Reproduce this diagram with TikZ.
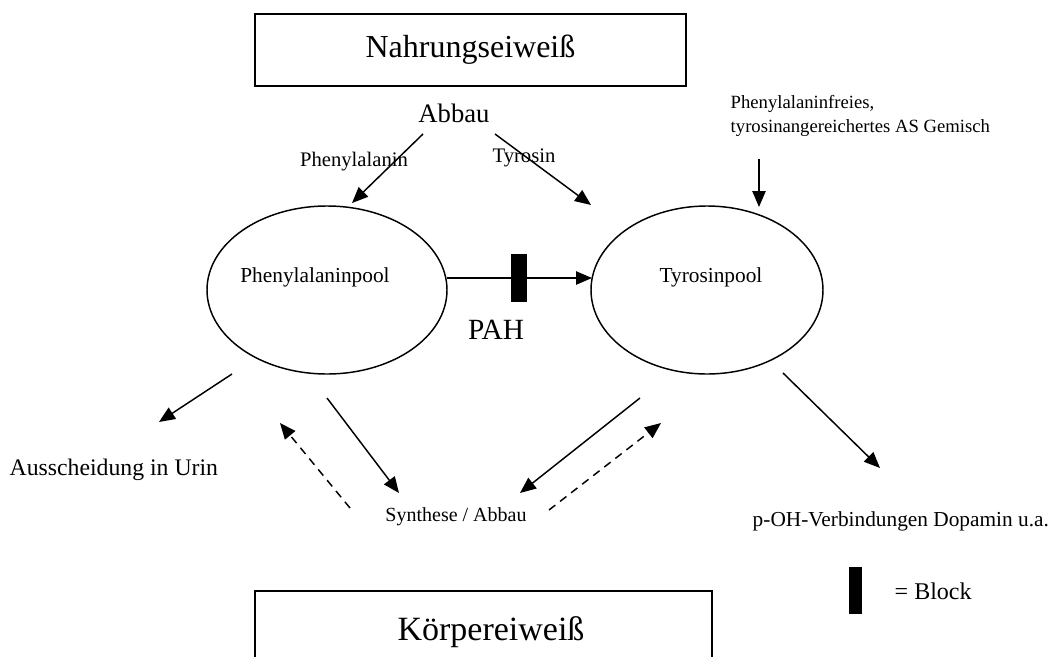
\documentclass[tikz,border=0pt]{standalone}
\usepackage{fontspec}
\setmainfont{Liberation Serif}
\usetikzlibrary{arrows.meta,shapes.geometric}
\begin{document}
\begin{tikzpicture}[x=0.75pt,y=-0.75pt,line width=1.1pt,
  arr/.style={-{Triangle[length=12pt,width=10pt]}},
  dasharr/.style={arr,dash pattern=on 6pt off 4.5pt},
  pool/.style={draw,ellipse,inner sep=0pt,minimum width=180pt,minimum height=126pt},
  txt/.style={inner sep=0pt,font=\fontsize{#1}{#1}\selectfont},
  blockbar/.style={fill=black,draw=none,inner sep=0pt}]
\useasboundingbox (0,0) rectangle (1058,657);

% top box
\node[draw,minimum width=323.25pt,minimum height=54pt,inner sep=0pt,
      font=\fontsize{24}{28}\selectfont] (N) at (470.5,50) {Nahrungseiweiß};
\node[txt=20] (abbau) at (454,113) {Abbau};
\node[txt=15.5] (lphe) at (354,162) {Phenylalanin};
\node[txt=15.5] (ltyr) at (524,158) {Tyrosin};

% pools
\node[pool] (P) at (327,290) {};
\node[txt=16] (Ptext) at (315,277) {Phenylalaninpool};
\node[pool,minimum width=174pt] (T) at (707,290) {};
\node[txt=16] (Ttext) at (711,277) {Tyrosinpool};

% Abbau arrows
\coordinate (a1s) at (423,134); \coordinate (a1e) at (352,203);
\coordinate (a2s) at (495,134); \coordinate (a2e) at (591,205);
\draw[arr] (a1s) -- (a1e);
\draw[arr] (a2s) -- (a2e);

% PAH
\coordinate (pahs) at (447,278); \coordinate (pahe) at (592,278);
\draw[arr] (pahs) -- (pahe);
\node[blockbar,minimum width=12pt,minimum height=36pt] (blk) at (519,278) {};
\node[txt=22] (pah) at (496,330) {PAH};

% supplement
\node[txt=14,align=left,anchor=north west,font=\fontsize{14}{18}\selectfont] (sup) at (730,95)
  {Phenylalaninfreies,\\tyrosinangereichertes AS Gemisch};
\coordinate (sups) at (759,159); \coordinate (supe) at (759,207);
\draw[arr] (sups) -- (supe);

% lower arrows
\coordinate (u1s) at (232,374); \coordinate (u1e) at (159,422);
\draw[arr] (u1s) -- (u1e);
\node[txt=17.8,anchor=west] (urin) at (9,470) {Ausscheidung in Urin};

\coordinate (ps1) at (327,398); \coordinate (ps2) at (399,493);
\draw[arr] (ps1) -- (ps2);
\coordinate (sp1) at (350,508); \coordinate (sp2) at (280,423);
\draw[dasharr] (sp1) -- (sp2);

\coordinate (ts1) at (640,398); \coordinate (ts2) at (520,493);
\draw[arr] (ts1) -- (ts2);
\coordinate (st1) at (549,510); \coordinate (st2) at (661,423);
\draw[dasharr] (st1) -- (st2);

\node[txt=15] (syn) at (456,517) {Synthese / Abbau};

\coordinate (to1) at (783,373); \coordinate (to2) at (880,468);
\draw[arr] (to1) -- (to2);
\node[txt=16,anchor=west] (poh) at (752,521) {p-OH-Verbindungen Dopamin u.a.};

% legend
\node[blockbar,minimum width=10pt,minimum height=35pt] (lblk) at (855.5,590.5) {};
\node[txt=18,anchor=west] (lblock) at (894,591) {= Block};

% bottom box (cut off)
\draw (255,657) -- (255,591) -- (712,591) -- (712,657);
\node[txt=25.5] (K) at (491,632) {Körpereiweiß};
\end{tikzpicture}
\end{document}
